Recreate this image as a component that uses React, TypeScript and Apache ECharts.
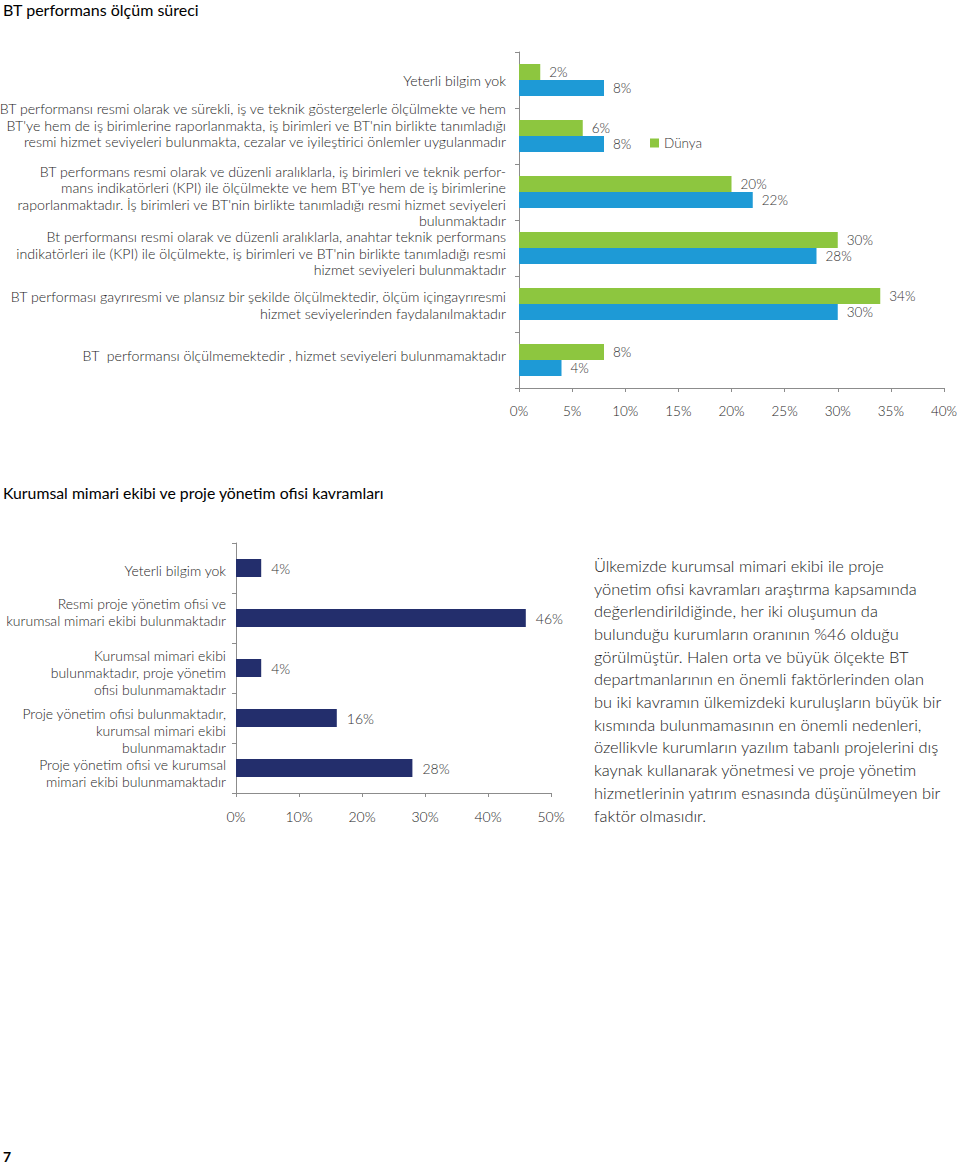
import React, { useEffect, useRef } from "react";
import * as echarts from "echarts";

const FONT = "Lato";

const topCategories = [
  "Yeterli bilgim yok",
  "BT performansı resmi olarak ve sürekli, iş ve teknik göstergelerle ölçülmekte ve hem\nBT'ye hem de iş birimlerine raporlanmakta, iş birimleri ve BT'nin birlikte tanımladığı\nresmi hizmet seviyeleri bulunmakta, cezalar ve iyileştirici önlemler uygulanmadır",
  "BT performans resmi olarak ve düzenli aralıklarla, iş birimleri ve teknik perfor-\nmans indikatörleri (KPI) ile ölçülmekte ve hem BT'ye hem de iş birimlerine\nraporlanmaktadır. İş birimleri ve BT'nin birlikte tanımladığı resmi hizmet seviyeleri\nbulunmaktadır",
  "Bt performansı resmi olarak ve düzenli aralıklarla, anahtar teknik performans\nindikatörleri ile (KPI) ile ölçülmekte, iş birimleri ve BT'nin birlikte tanımladığı resmi\nhizmet seviyeleri bulunmaktadır",
  "BT performası gayrıresmi ve plansız bir şekilde ölçülmektedir, ölçüm içingayrıresmi\nhizmet seviyelerinden faydalanılmaktadır",
  "BT  performansı ölçülmemektedir , hizmet seviyeleri bulunmamaktadır",
];
const dunyaValues = [2, 6, 20, 30, 34, 8];
const turkiyeValues = [8, 8, 22, 28, 30, 4];

const bottomCategories = [
  "Yeterli bilgim yok",
  "Resmi proje yönetim ofisi ve\nkurumsal mimari ekibi bulunmaktadır",
  "Kurumsal mimari ekibi\nbulunmaktadır, proje yönetim\nofisi bulunmamaktadır",
  "Proje yönetim ofisi bulunmaktadır,\nkurumsal mimari ekibi\nbulunmamaktadır",
  "Proje yönetim ofisi ve kurumsal\nmimari ekibi bulunmamaktadır",
];
const bottomValues = [4, 46, 4, 16, 28];

const topTitle = "BT performans ölçüm süreci";
const bottomTitle = "Kurumsal mimari ekibi ve proje yönetim ofisi kavramları";
const paragraphLines = [
  "Ülkemizde kurumsal mimari ekibi ile proje",
  "yönetim ofisi kavramları araştırma kapsamında",
  "değerlendirildiğinde, her iki oluşumun da",
  "bulunduğu kurumların oranının %46 olduğu",
  "görülmüştür. Halen orta ve büyük ölçekte BT",
  "departmanlarının en önemli faktörlerinden olan",
  "bu iki kavramın ülkemizdeki kuruluşların büyük bir",
  "kısmında bulunmamasının en önemli nedenleri,",
  "özellikvle kurumların yazılım tabanlı projelerini dış",
  "kaynak kullanarak yönetmesi ve proje yönetim",
  "hizmetlerinin yatırım esnasında düşünülmeyen bir",
  "faktör olmasıdır.",
];
const pageNumber = "7";

// vertical label shifts (px, + = down) to match the original label placement
const topLabelShift = [0, -11, 4, 5, 1, -5];
const bottomLabelShift = [2, -6, 4, 12, 5];

const GREEN = "#8dc63f";
const BLUE = "#1e9ad6";
const NAVY = "#232e6c";
const AXIS = "#8c8c8c";
const TEXT = "#262626";
const W = 300;

// builds a rich-text formatter that shifts each category label vertically
const shiftFormatter = (shifts: number[]) => (value: string, index: number) => {
  const s = shifts[index] || 0;
  const body = value
    .split("\n")
    .map((l) => "{t|" + l + "}")
    .join("\n");
  if (s > 0) return "{g" + 2 * s + "| }\n" + body;
  if (s < 0) return body + "\n{g" + -2 * s + "| }";
  return body;
};
const makeRich = (shifts: number[], size: number, lh: number) => {
  const rich: any = {
    t: { fontFamily: FONT, fontWeight: W, fontSize: size, lineHeight: lh, color: TEXT },
  };
  shifts.forEach((s) => {
    const h = Math.abs(2 * s);
    if (h) rich["g" + h] = { fontSize: 1, lineHeight: h, height: h };
  });
  return rich;
};

export default function App() {
  const ref = useRef<HTMLDivElement>(null);

  useEffect(() => {
    document.body.style.margin = "0";
    const chart = echarts.init(ref.current!, null, { renderer: "svg" });
    const pct = (p: any) => p.value + "%";
    const valLabel = (size: number, dist: number) => ({
      show: true,
      position: "right",
      distance: dist,
      formatter: pct,
      fontFamily: FONT,
      fontWeight: W,
      fontSize: size,
      color: "#333",
    });
    chart.setOption({
      animation: false,
      backgroundColor: "#ffffff",
      textStyle: { fontFamily: FONT },
      legend: {
        data: ["Dünya"],
        left: 645,
        top: 131,
        itemWidth: 9,
        itemHeight: 9,
        itemGap: 4,
        icon: "rect",
        textStyle: { fontFamily: FONT, fontWeight: W, fontSize: 13.5, color: "#333" },
      },
      grid: [
        { left: 519, top: 52, width: 425, height: 336, outerBoundsMode: "none", containLabel: false },
        { left: 236, top: 543, width: 315, height: 250, outerBoundsMode: "none", containLabel: false },
      ],
      xAxis: [
        {
          type: "value",
          gridIndex: 0,
          min: 0,
          max: 40,
          interval: 5,
          splitLine: { show: false },
          axisLine: { show: true, lineStyle: { color: AXIS } },
          axisTick: { show: true, length: 4, lineStyle: { color: AXIS } },
          axisLabel: {
            formatter: "{value}%",
            margin: 16,
            fontFamily: FONT,
            fontWeight: W,
            fontSize: 13.5,
            color: TEXT,
          },
        },
        {
          type: "value",
          gridIndex: 1,
          min: 0,
          max: 50,
          interval: 10,
          splitLine: { show: false },
          axisLine: { show: true, lineStyle: { color: AXIS } },
          axisTick: { show: true, length: 4, lineStyle: { color: AXIS } },
          axisLabel: {
            formatter: "{value}%",
            margin: 16,
            fontFamily: FONT,
            fontWeight: W,
            fontSize: 14,
            color: TEXT,
          },
        },
      ],
      yAxis: [
        {
          type: "category",
          gridIndex: 0,
          inverse: true,
          data: topCategories,
          axisLine: { show: true, lineStyle: { color: AXIS } },
          axisTick: { show: true, length: 4, lineStyle: { color: AXIS } },
          axisLabel: {
            interval: 0,
            margin: 13,
            align: "right",
            formatter: shiftFormatter(topLabelShift),
            rich: makeRich(topLabelShift, 14.2, 16.5),
          },
        },
        {
          type: "category",
          gridIndex: 1,
          inverse: true,
          data: bottomCategories,
          axisLine: { show: true, lineStyle: { color: AXIS } },
          axisTick: { show: true, length: 4, lineStyle: { color: AXIS } },
          axisLabel: {
            interval: 0,
            margin: 10,
            align: "right",
            formatter: shiftFormatter(bottomLabelShift),
            rich: makeRich(bottomLabelShift, 14, 17),
          },
        },
      ],
      series: [
        {
          name: "Dünya",
          type: "bar",
          xAxisIndex: 0,
          yAxisIndex: 0,
          data: dunyaValues,
          barWidth: 16,
          barGap: "0%",
          itemStyle: { color: GREEN },
          label: valLabel(13.5, 9),
        },
        {
          name: "Türkiye",
          type: "bar",
          xAxisIndex: 0,
          yAxisIndex: 0,
          data: turkiyeValues,
          barWidth: 16,
          barGap: "0%",
          itemStyle: { color: BLUE },
          label: valLabel(13.5, 9),
        },
        {
          name: "Kurumsal",
          type: "bar",
          xAxisIndex: 1,
          yAxisIndex: 1,
          data: bottomValues,
          barWidth: 18,
          itemStyle: { color: NAVY },
          label: valLabel(14, 10),
        },
      ],
      graphic: [
        {
          type: "text",
          left: 3,
          top: 1,
          style: { text: topTitle, fontFamily: FONT, fontSize: 16, fill: "#000" },
        },
        {
          type: "text",
          left: 3,
          top: 484,
          style: { text: bottomTitle, fontFamily: FONT, fontSize: 15.8, fill: "#000" },
        },
        {
          type: "text",
          left: 594,
          top: 554,
          style: {
            text: paragraphLines.join("\n"),
            fontFamily: FONT,
            fontWeight: W,
            fontSize: 16.4,
            lineHeight: 22.7,
            fill: "#1a1a1a",
          },
        },
        {
          type: "text",
          left: 3,
          top: 1149,
          style: { text: pageNumber, fontFamily: FONT, fontSize: 14, fontWeight: "bold", fill: "#000" },
        },
      ],
    });
    return () => chart.dispose();
  }, []);

  return <div ref={ref} style={{ width: 960, height: 1166 }} />;
}
